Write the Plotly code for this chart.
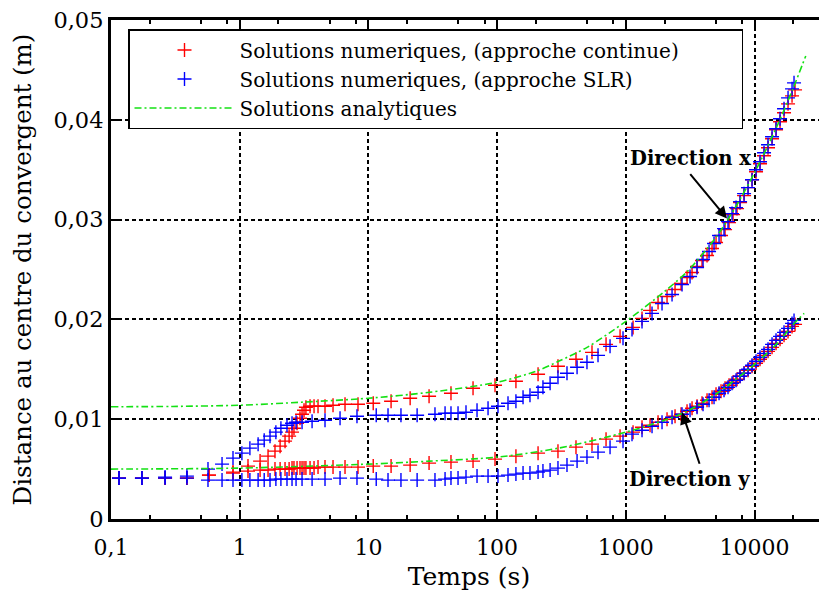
import math
import plotly.graph_objects as go

# ---------------- data ----------------
# Numerical solutions, continuous approach (red)
t_cont = [0.1154, 0.174, 0.263, 0.389, 0.577, 0.887, 1.16, 1.44, 1.66, 1.88, 2.06, 2.25,
          2.42, 2.55, 2.64, 2.79, 2.94, 3.05, 3.16, 3.27, 3.52, 3.78, 4.06, 4.60, 5.31,
          6.58, 8.30, 10.9, 15.0, 21.1, 29.6, 43.8, 65.0, 96.3, 140, 208, 297, 410, 546,
          702, 902, 1138, 1336, 1542, 1780, 2090, 2412, 2685, 2990, 3269, 3575, 3909,
          4275, 4675, 5022, 5491, 5899, 6337, 6808, 7311, 7717, 8290, 8904, 9565, 10270,
          11030, 11850, 12730, 13680, 14690, 15780, 16950, 18210, 19560, 20640]
x_cont = [0.0041, 0.0041, 0.0041, 0.0041, 0.0044, 0.0047, 0.0053, 0.0058, 0.0063, 0.0068,
          0.0073, 0.0078, 0.0083, 0.0087, 0.0091, 0.0096, 0.0101, 0.0105, 0.0109, 0.0112,
          0.0113, 0.0113, 0.0113, 0.0113, 0.0114, 0.0115, 0.0115, 0.0116, 0.0118, 0.0121,
          0.0123, 0.0126, 0.0131, 0.0134, 0.0138, 0.0145, 0.0153, 0.0160, 0.0167, 0.0175,
          0.0183, 0.0192, 0.0201, 0.0209, 0.0217, 0.0223, 0.0230, 0.0236, 0.0242, 0.0247,
          0.0253, 0.0259, 0.0264, 0.0271, 0.0277, 0.0284, 0.0290, 0.0297, 0.0305, 0.0311,
          0.0317, 0.0324, 0.0332, 0.0340, 0.0348, 0.0356, 0.0364, 0.0372, 0.0381, 0.0390,
          0.0398, 0.0407, 0.0416, 0.0424, 0.0430]
y_cont = [0.0041, 0.0041, 0.0041, 0.0041, 0.0044, 0.0046, 0.0048, 0.0049, 0.0049, 0.0050,
          0.0050, 0.0050, 0.0050, 0.0051, 0.0051, 0.0051, 0.0051, 0.0051, 0.0051, 0.0051,
          0.0051, 0.0051, 0.0052, 0.0052, 0.0052, 0.0052, 0.0052, 0.0053, 0.0053, 0.0054,
          0.0056, 0.0057, 0.0058, 0.0060, 0.0063, 0.0066, 0.0068, 0.0072, 0.0075, 0.0080,
          0.0083, 0.0087, 0.0092, 0.0094, 0.0097, 0.0100, 0.0103, 0.0105, 0.0108, 0.0111,
          0.0113, 0.0116, 0.0119, 0.0122, 0.0125, 0.0128, 0.0131, 0.0134, 0.0137, 0.0140,
          0.0143, 0.0146, 0.0149, 0.0153, 0.0156, 0.0160, 0.0164, 0.0168, 0.0172, 0.0176,
          0.0180, 0.0184, 0.0188, 0.0193, 0.0195]

# Numerical solutions, SLR approach (blue)
t_slr = [0.1154, 0.174, 0.263, 0.389, 0.567, 0.729, 0.887, 1.04, 1.20, 1.39, 1.55, 1.72,
         1.91, 2.09, 2.33, 2.55, 2.74, 3.05, 3.65, 4.60, 6.02, 8.15, 11.5, 14.2, 17.9,
         23.9, 32.9, 39.4, 43.8, 49.7, 57.3, 69.8, 85.0, 101.6, 121.5, 140, 159, 180, 208,
         227, 258, 297, 349, 418, 499, 608, 754, 951, 1117, 1336, 1598, 1911, 2286, 2734,
         3154, 3575, 3980, 4431, 4845, 5300, 5794, 6223, 6687, 7182, 7717, 8290, 8904,
         9565, 10270, 11030, 11850, 12730, 13680, 14690, 15780, 16950, 18210, 19560, 20270]
x_slr = [0.0041, 0.0041, 0.0042, 0.0043, 0.0050, 0.0055, 0.0061, 0.0066, 0.0071, 0.0075,
         0.0079, 0.0083, 0.0087, 0.0091, 0.0094, 0.0096, 0.0097, 0.0097, 0.0098, 0.0099,
         0.0101, 0.0103, 0.0104, 0.0104, 0.0104, 0.0104, 0.0105, 0.0106, 0.0106, 0.0106,
         0.0107, 0.0109, 0.0111, 0.0113, 0.0116, 0.0118, 0.0122, 0.0124, 0.0127, 0.0132,
         0.0136, 0.0142, 0.0146, 0.0152, 0.0157, 0.0164, 0.0173, 0.0181, 0.0190, 0.0198,
         0.0206, 0.0216, 0.0225, 0.0235, 0.0243, 0.0252, 0.0260, 0.0268, 0.0276, 0.0284,
         0.0291, 0.0298, 0.0306, 0.0312, 0.0318, 0.0326, 0.0332, 0.0340, 0.0350, 0.0358,
         0.0367, 0.0375, 0.0383, 0.0391, 0.0401, 0.0411, 0.0422, 0.0431, 0.0437]
y_slr = [0.0041, 0.0041, 0.0041, 0.0041, 0.0039, 0.0039, 0.0039, 0.0039, 0.0039, 0.0039,
         0.0039, 0.0039, 0.0040, 0.0040, 0.0040, 0.0040, 0.0040, 0.0040, 0.0040, 0.0040,
         0.0041, 0.0041, 0.0040, 0.0039, 0.0039, 0.0039, 0.0039, 0.0040, 0.0041, 0.0041,
         0.0042, 0.0043, 0.0043, 0.0043, 0.0044, 0.0045, 0.0046, 0.0046, 0.0047, 0.0048,
         0.0049, 0.0051, 0.0054, 0.0058, 0.0062, 0.0067, 0.0072, 0.0078, 0.0085, 0.0089,
         0.0093, 0.0097, 0.0102, 0.0105, 0.0109, 0.0112, 0.0115, 0.0119, 0.0122, 0.0126,
         0.0129, 0.0132, 0.0136, 0.0139, 0.0143, 0.0146, 0.0150, 0.0154, 0.0158, 0.0162,
         0.0166, 0.0170, 0.0175, 0.0179, 0.0183, 0.0187, 0.0191, 0.0196, 0.0199]

# Analytical solutions (green)
t_ana_x = [0.1, 0.3, 1, 3, 10, 30, 100, 200, 300, 500, 1000, 2000, 3000, 5000, 7000,
           10000, 15000, 20000, 25000]
ana_x = [0.01125, 0.01128, 0.0114, 0.0117, 0.0121, 0.0127, 0.0137, 0.0148, 0.0158, 0.0172,
         0.0198, 0.0228, 0.0248, 0.0282, 0.0311, 0.0347, 0.0394, 0.0432, 0.0464]
t_ana_y = [0.1, 1, 10, 30, 100, 300, 1000, 2000, 3000, 5000, 10000, 15000, 20000, 24300]
ana_y = [0.0050, 0.0051, 0.0055, 0.0058, 0.0062, 0.0071, 0.0087, 0.0099, 0.0108, 0.0125,
         0.0155, 0.0176, 0.0195, 0.0206]

x_tick_vals = [0.1, 1, 10, 100, 1000, 10000]
x_tick_text = ["0,1", "1", "10", "100", "1000", "10000"]
y_tick_vals = [0, 0.01, 0.02, 0.03, 0.04, 0.05]
y_tick_text = ["0", "0,01", "0,02", "0,03", "0,04", "0,05"]

legend_names = ["Solutions numeriques, (approche continue)",
                "Solutions numeriques, (approche SLR)",
                "Solutions analytiques"]

# ---------------- figure ----------------
FONT = "DejaVu Serif"
NB = "\u00a0"  # padding so the legend box reaches its original width

fig = go.Figure()
fig.add_trace(go.Scatter(
    x=t_cont + t_cont, y=x_cont + y_cont, mode="markers",
    name=legend_names[0] + NB * 9,
    marker=dict(symbol="cross-thin", size=10, line=dict(color="rgb(255,0,0)", width=1.4)),
))
fig.add_trace(go.Scatter(
    x=t_slr + t_slr, y=x_slr + y_slr, mode="markers", name=legend_names[1],
    marker=dict(symbol="cross-thin", size=10, line=dict(color="rgb(0,0,255)", width=1.4)),
))
fig.add_trace(go.Scatter(
    x=t_ana_x + [None] + t_ana_y, y=ana_x + [None] + ana_y, mode="lines",
    name=legend_names[2], connectgaps=False,
    line=dict(color="rgb(20,225,20)", width=1.6, dash="7px,3px,2px,3px",
              shape="spline", smoothing=0.8),
))

minor_vals = []
for e in range(-1, 5):
    for m in (2, 5, 8):
        minor_vals.append(m * 10 ** e)

fig.update_xaxes(
    type="log", range=[-1, 4.563],
    tickmode="array", tickvals=x_tick_vals, ticktext=x_tick_text,
    ticks="inside", ticklen=8, tickwidth=2, tickcolor="black",
    showline=True, linewidth=3, linecolor="black", mirror="ticks",
    showgrid=True, gridcolor="black", griddash="4px,3px", gridwidth=1.5,
    minor=dict(tickmode="array", tickvals=minor_vals, ticks="inside", ticklen=4,
               tickwidth=2, tickcolor="black", showgrid=False),
    zeroline=False, ticklabelstandoff=7,
    title=dict(text="Temps (s)", font=dict(family=FONT, size=25, color="black"), standoff=9),
    tickfont=dict(family=FONT, size=22, color="black"),
)
fig.update_yaxes(
    range=[0, 0.05],
    tickmode="array", tickvals=y_tick_vals, ticktext=y_tick_text,
    ticks="inside", ticklen=8, tickwidth=2, tickcolor="black",
    showline=True, linewidth=3, linecolor="black",
    showgrid=True, gridcolor="black", griddash="4px,3px", gridwidth=1.5,
    zeroline=False, ticklabeloverflow="allow",
    title=dict(text="Distance au centre du convergent (m)",
               font=dict(family=FONT, size=24.5, color="black"), standoff=18),
    tickfont=dict(family=FONT, size=22.5, color="black"),
)

# layout geometry (the page body adds an 8 px offset)
OFF = 8
L, R, T, B = 111 - OFF, 0, 20 - OFF, 91
W, H = 827 - OFF, 610 - OFF
pw, ph = W - L - R, H - T - B


def px_to_paper(px, py):
    return (px - OFF - L) / pw, 1 - (py - OFF - T) / ph


# arrows and labels
fig.add_annotation(x=math.log10(6110), y=0.0301, xref="x", yref="y", text="",
                   showarrow=True, ax=-38, ay=-46, arrowhead=2, arrowsize=1.2,
                   arrowwidth=2, arrowcolor="black", standoff=0)
lx, ly = px_to_paper(690, 158)
fig.add_annotation(x=lx, y=ly, xref="paper", yref="paper", text="<b>Direction x</b>",
                   xanchor="center", yanchor="middle",
                   showarrow=False, font=dict(family=FONT, size=19.5, color="black"))
fig.add_annotation(x=math.log10(2735), y=0.0107, xref="x", yref="y", text="",
                   showarrow=True, ax=18, ay=53, arrowhead=2, arrowsize=1.2,
                   arrowwidth=2, arrowcolor="black", standoff=0)
lx, ly = px_to_paper(689, 479)
fig.add_annotation(x=lx, y=ly, xref="paper", yref="paper", text="<b>Direction y</b>",
                   xanchor="center", yanchor="middle",
                   showarrow=False, font=dict(family=FONT, size=19.5, color="black"))

gx, gy = px_to_paper(128, 29)
fig.update_layout(
    width=W, height=H,
    margin=dict(l=L, r=R, t=T, b=B),
    plot_bgcolor="white", paper_bgcolor="white",
    font=dict(family=FONT, size=20, color="black"),
    showlegend=True,
    legend=dict(x=gx, y=gy, xanchor="left", yanchor="top",
                bgcolor="white", bordercolor="black", borderwidth=1.5,
                font=dict(family=FONT, size=20, color="black"),
                itemwidth=100, tracegroupgap=0),
)

fig.write_html("out.html")
